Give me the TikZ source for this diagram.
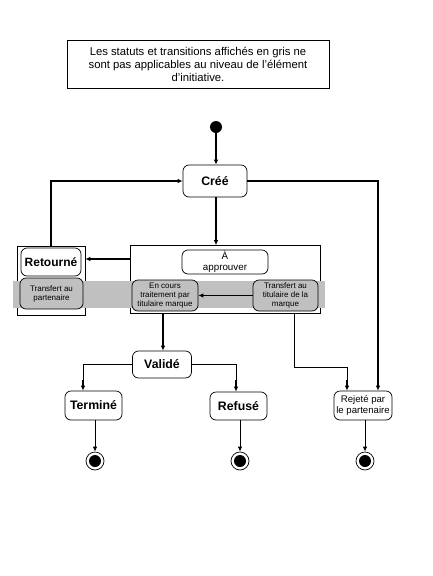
\documentclass[tikz,border=0pt]{standalone}
\usepackage{fontspec}
\setmainfont{Liberation Sans}
\usetikzlibrary{arrows.meta}
\definecolor{band}{HTML}{C0C0C0}
\begin{document}
\begin{tikzpicture}[x=1pt,y=-1pt,
  state/.style={draw,rounded corners=6pt,line width=0.7pt,inner sep=0pt,align=center,font=\fontsize{12.3}{13}\selectfont\bfseries},
  small/.style={draw,rounded corners=6pt,line width=0.7pt,inner sep=0pt,align=center,font=\fontsize{8}{9}\selectfont},
  gstate/.style={small,fill=band},
  frame/.style={draw,line width=0.7pt,inner sep=0pt},
  thick conn/.style={line width=1.6pt,-{Latex[length=5pt,width=4.5pt]}},
  thin conn/.style={line width=0.8pt,-{Latex[length=5pt,width=4.5pt]}},
  thick line/.style={line width=1.6pt},
  thin line/.style={line width=0.8pt}]
\useasboundingbox (0,0) rectangle (432,576);
\fill[white] (0,0) rectangle (432,576);

% note
\node[frame,minimum width=262pt,minimum height=48pt,align=center,font=\fontsize{11.3}{13}\selectfont] (note) at (198,64)
  {Les statuts et transitions affichés en gris ne\\sont pas applicables au niveau de l'élément\\d'initiative.};

% initial
\node[circle,fill=black,minimum size=12pt,inner sep=0pt] (init) at (216,127) {};

% outer frames
\node[frame,minimum width=68pt,minimum height=69pt] (retframe) at (51,280.5) {};
\node[frame,minimum width=190pt,minimum height=68pt] (grp) at (225,279.5) {};

% grey band
\fill[band] (13,280.5) rectangle (325,308);

% states
\node[state,minimum width=64pt,minimum height=32pt] (cree) at (215,181) {Créé};
\node[state,minimum width=60pt,minimum height=28pt,font=\fontsize{12}{13}\selectfont\bfseries] (ret) at (51,262) {Retourné};
\node[gstate,minimum width=63pt,minimum height=31pt] (tpart) at (51.5,293.5) {Transfert au\\partenaire};
\node[small,fill=white,minimum width=86pt,minimum height=24pt,font=\fontsize{9.8}{10.5}\selectfont] (appr) at (225,262) {À\\approuver};
\node[gstate,minimum width=66pt,minimum height=31pt] (encours) at (165,295.5) {En cours\\traitement par\\titulaire marque};
\node[gstate,minimum width=65pt,minimum height=31pt] (ttit) at (285.5,295.5) {Transfert au\\titulaire de la\\marque};
\node[state,minimum width=59pt,minimum height=27pt] (valide) at (162,364.5) {Validé};
\node[state,minimum width=57pt,minimum height=29pt] (termine) at (93.5,405.5) {Terminé};
\node[state,minimum width=57pt,minimum height=28pt] (refuse) at (238.5,406) {Refusé};
\node[state,minimum width=58pt,minimum height=29pt,font=\fontsize{9.6}{11}\selectfont] (rejete) at (363,405.5) {Rejeté par\\le partenaire};

% final states
\foreach \n/\x in {fin1/95,fin2/240,fin3/365}{
  \node[circle,draw,line width=0.7pt,minimum size=18pt,inner sep=0pt] (\n) at (\x,461) {};
  \fill (\x,461) circle (6pt);
}

% connectors
\draw[thick conn] (init) -- (cree.north -| init);
\draw[thick conn] (retframe.north -| 51,0) |- (cree.west);
\draw[thick line] (cree.east) -| (378,245);
\draw[thick conn] (378,245) -- (rejete.north -| 378,0);
\draw[thick conn] (cree.south -| 216,0) -- (grp.north -| 216,0);
\draw[thick conn] (grp.west |- 0,259) -- (retframe.east |- 0,259);
\draw[thick conn] (ttit.west) -- (encours.east);
\draw[thick conn] (grp.south -| 163,0) -- (valide.north -| 163,0);
\draw[thin line] (valide.west) -| (83,380);
\draw[thick conn] (83,380) -- (termine.north -| 83,0);
\draw[thin line] (valide.east) -| (236,380);
\draw[thick conn] (236,380) -- (refuse.north -| 236,0);
\coordinate (k1) at (294,367);
\coordinate (k2) at (347,367);
\draw[thin line] (grp.south -| k1) -- (k1) -- (k2) -- (347,380);
\draw[thick conn] (347,380) -- (rejete.north -| k2);
\draw[thin conn] (termine.south -| fin1) -- (fin1);
\draw[thin conn] (refuse.south -| fin2) -- (fin2);
\draw[thin conn] (rejete.south -| fin3) -- (fin3);
\end{tikzpicture}
\end{document}
